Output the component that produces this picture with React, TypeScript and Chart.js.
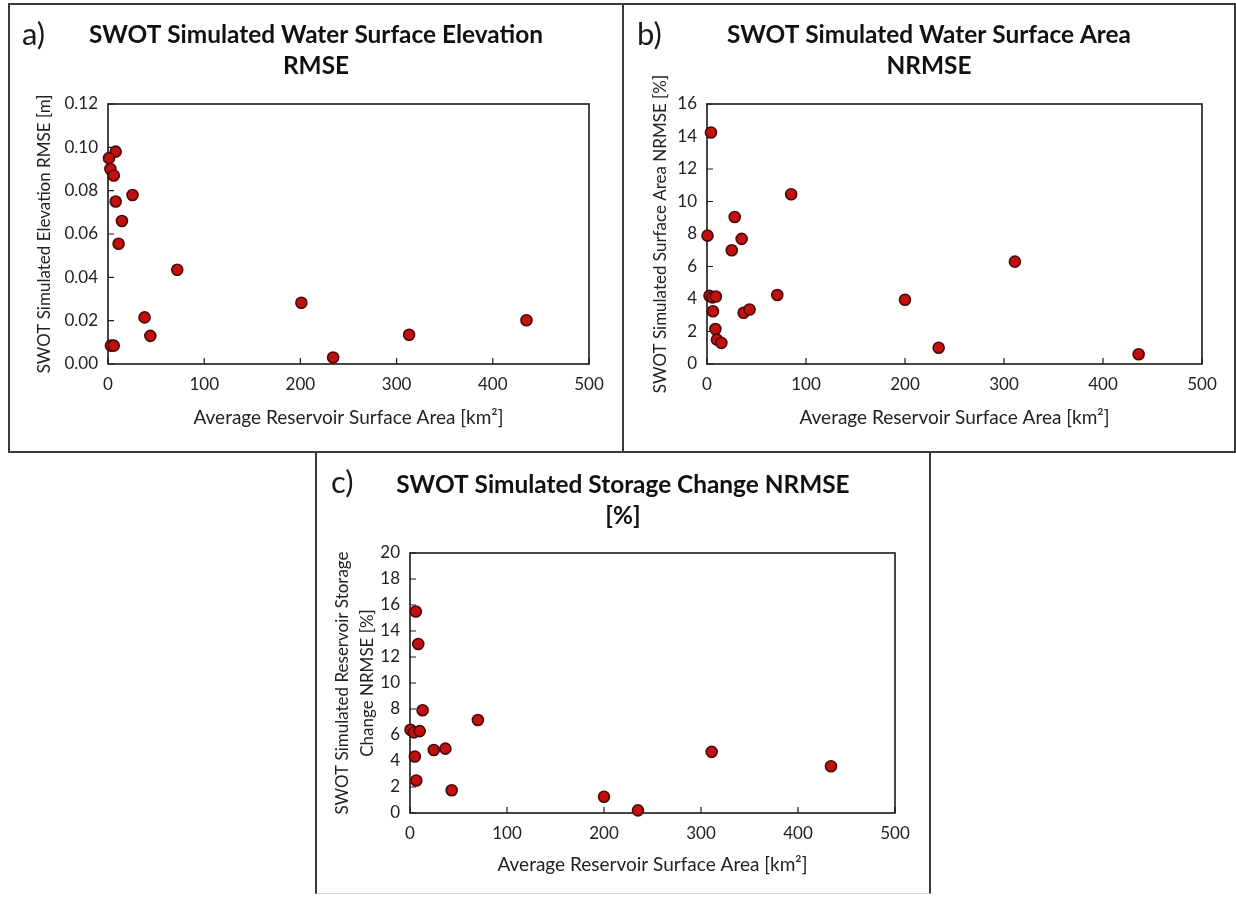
import { useEffect, useRef } from 'react';
import { Chart, registerables } from 'chart.js';

Chart.register(...registerables);

// ---------- data ----------
const xTickValues = [0, 100, 200, 300, 400, 500];
const xTickLabels = ['0', '100', '200', '300', '400', '500'];

// a) Water surface elevation RMSE [m]
const areaA = [8, 1, 2.5, 6, 25.5, 8, 14.5, 11, 72, 38, 44, 3, 6, 201, 234, 313, 435];
const rmseA = [0.098, 0.095, 0.09, 0.087, 0.078, 0.075, 0.066, 0.0555, 0.0435, 0.0215, 0.013, 0.0085, 0.0085, 0.0283, 0.003, 0.0135, 0.0202];
const yTickValuesA = [0, 0.02, 0.04, 0.06, 0.08, 0.1, 0.12];
const yTickLabelsA = ['0.00', '0.02', '0.04', '0.06', '0.08', '0.10', '0.12'];

// b) Water surface area NRMSE [%]
const areaB = [4, 85, 28, 0.5, 35, 25, 2.5, 5.5, 9, 71, 6, 37, 43, 8.5, 10, 14.5, 200, 234, 311, 436];
const nrmseB = [14.25, 10.45, 9.05, 7.9, 7.7, 7.0, 4.2, 4.1, 4.15, 4.25, 3.25, 3.15, 3.35, 2.15, 1.5, 1.3, 3.95, 1.0, 6.3, 0.6];
const yTickValuesB = [0, 2, 4, 6, 8, 10, 12, 14, 16];
const yTickLabelsB = ['0', '2', '4', '6', '8', '10', '12', '14', '16'];

// c) Storage change NRMSE [%]
const areaC = [6, 8.5, 13, 70, 0.5, 4, 10, 24.5, 36.5, 5, 6.5, 43, 200, 235, 311, 434];
const nrmseC = [15.5, 13.0, 7.9, 7.15, 6.4, 6.2, 6.3, 4.85, 4.95, 4.35, 2.5, 1.75, 1.25, 0.2, 4.7, 3.6];
const yTickValuesC = [0, 2, 4, 6, 8, 10, 12, 14, 16, 18, 20];
const yTickLabelsC = ['0', '2', '4', '6', '8', '10', '12', '14', '16', '18', '20'];

const xTitle = 'Average Reservoir Surface Area [km²]';

const FONT = 'Lato, "Open Sans", "Noto Sans", sans-serif';
const TITLE_SIZE = 24.4;

const framePlugin = {
  id: 'frameTicks',
  beforeDatasetsDraw(chart: any) {
    const { ctx, chartArea: a, scales } = chart;
    ctx.save();
    ctx.strokeStyle = '#1a1a1a';
    ctx.lineWidth = 1.6;
    ctx.strokeRect(a.left, a.top, a.right - a.left, a.bottom - a.top);
    ctx.lineWidth = 1.2;
    ctx.beginPath();
    scales.x.ticks.forEach((t: any) => {
      const px = scales.x.getPixelForValue(t.value);
      ctx.moveTo(px, a.bottom);
      ctx.lineTo(px, a.bottom - 6);
    });
    scales.y.ticks.forEach((t: any) => {
      const py = scales.y.getPixelForValue(t.value);
      ctx.moveTo(a.left, py);
      ctx.lineTo(a.left + 6, py);
    });
    ctx.stroke();
    ctx.restore();
  },
  afterDraw(chart: any, _args: any, opts: any) {
    if (!opts || !opts.label) return;
    const { ctx } = chart;
    ctx.save();
    ctx.font = `normal 31px ${FONT}`;
    ctx.fillStyle = '#1a1a1a';
    ctx.textBaseline = 'middle';
    ctx.textAlign = 'left';
    ctx.fillText(opts.label, opts.lx, opts.ly);
    ctx.restore();
  },
};

type PanelDef = {
  label: string;
  title: string[];
  yTitle: string | string[];
  xs: number[];
  ys: number[];
  yTickValues: number[];
  yTickLabels: string[];
  left: number;
  top: number;
  width: number;
  height: number;
  yAxisW: number;
  rightW: number;
  titlePadTop: number;
  titlePadBottom: number;
  yTitlePad: number;
  yTitleLH: number;
  xAxisH: number;
  xTitlePadBottom: number;
  lx: number;
  ly: number;
};

function Panel({ def }: { def: PanelDef }) {
  const ref = useRef<HTMLCanvasElement | null>(null);
  useEffect(() => {
    if (!ref.current) return;
    const points = def.xs.map((x, i) => ({ x, y: def.ys[i] }));
    const yMin = def.yTickValues[0];
    const yMax = def.yTickValues[def.yTickValues.length - 1];
    const chart = new Chart(ref.current, {
      type: 'scatter',
      data: {
        datasets: [
          {
            data: points,
            backgroundColor: '#c40f0f',
            borderColor: '#4a0909',
            borderWidth: 1.6,
            pointRadius: 5.5,
            pointHoverRadius: 5.5,
            clip: false,
          } as any,
        ],
      },
      plugins: [framePlugin],
      options: {
        animation: false,
        responsive: false,
        events: [],
        layout: { padding: 0 },
        plugins: {
          legend: { display: false },
          tooltip: { enabled: false },
          title: {
            display: true,
            text: def.title,
            color: '#111',
            font: { family: FONT, size: TITLE_SIZE, weight: 'bold', lineHeight: 31 / TITLE_SIZE },
            padding: { top: def.titlePadTop, bottom: def.titlePadBottom },
          },
          frameTicks: { label: def.label, lx: def.lx, ly: def.ly },
        } as any,
        scales: {
          x: {
            type: 'linear',
            position: 'bottom',
            min: 0,
            max: 500,
            afterBuildTicks: (s: any) => {
              s.ticks = xTickValues.map((v) => ({ value: v }));
            },
            afterFit: (s: any) => {
              s.height = def.xAxisH;
            },
            grid: { display: false, drawTicks: false },
            border: { display: false },
            ticks: {
              padding: 10,
              color: '#222',
              font: { family: FONT, size: 17 },
              maxRotation: 0,
              callback: (_v: any, i: number) => xTickLabels[i],
            },
            title: {
              display: true,
              text: xTitle,
              color: '#222',
              font: { family: FONT, size: 19 },
              padding: { top: 0, bottom: def.xTitlePadBottom },
            },
          },
          y: {
            type: 'linear',
            position: 'left',
            min: yMin,
            max: yMax,
            afterBuildTicks: (s: any) => {
              s.ticks = def.yTickValues.map((v) => ({ value: v }));
            },
            afterFit: (s: any) => {
              s.width = def.yAxisW;
            },
            grid: { display: false, drawTicks: false },
            border: { display: false },
            ticks: {
              padding: 10,
              color: '#222',
              font: { family: FONT, size: 17 },
              callback: (_v: any, i: number) => def.yTickLabels[i],
            },
            title: {
              display: true,
              text: def.yTitle,
              color: '#222',
              font: { family: FONT, size: 17, lineHeight: def.yTitleLH / 17 },
              padding: { top: def.yTitlePad, bottom: 0 },
            },
          },
          y2: {
            type: 'linear',
            position: 'right',
            display: true,
            grid: { display: false, drawTicks: false },
            border: { display: false },
            ticks: { display: false },
            afterFit: (s: any) => {
              s.width = def.rightW;
            },
          },
        },
      } as any,
    });
    return () => chart.destroy();
  }, [def]);
  return (
    <canvas
      ref={ref}
      width={def.width}
      height={def.height}
      style={{ position: 'absolute', left: def.left, top: def.top, width: def.width, height: def.height }}
    />
  );
}

const panels: PanelDef[] = [
  {
    label: 'a)',
    title: ['SWOT Simulated Water Surface Elevation', 'RMSE'],
    yTitle: 'SWOT Simulated Elevation RMSE [m]',
    xs: areaA,
    ys: rmseA,
    yTickValues: yTickValuesA,
    yTickLabels: yTickLabelsA,
    left: 10,
    top: 5,
    width: 612,
    height: 446,
    yAxisW: 98,
    rightW: 33,
    titlePadTop: 15,
    titlePadBottom: 22,
    yTitlePad: 24.8,
    yTitleLH: 20.4,
    xAxisH: 87,
    xTitlePadBottom: 21.6,
    lx: 12,
    ly: 30,
  },
  {
    label: 'b)',
    title: ['SWOT Simulated Water Surface Area', 'NRMSE'],
    yTitle: 'SWOT Simulated Surface Area NRMSE [%]',
    xs: areaB,
    ys: nrmseB,
    yTickValues: yTickValuesB,
    yTickLabels: yTickLabelsB,
    left: 624,
    top: 5,
    width: 610,
    height: 446,
    yAxisW: 83,
    rightW: 32,
    titlePadTop: 15,
    titlePadBottom: 22,
    yTitlePad: 26.8,
    yTitleLH: 20.4,
    xAxisH: 87,
    xTitlePadBottom: 21.6,
    lx: 13,
    ly: 30,
  },
  {
    label: 'c)',
    title: ['SWOT Simulated Storage Change NRMSE', '[%]'],
    yTitle: ['SWOT Simulated Reservoir Storage', 'Change NRMSE [%]'],
    xs: areaC,
    ys: nrmseC,
    yTickValues: yTickValuesC,
    yTickLabels: yTickLabelsC,
    left: 317,
    top: 453,
    width: 612,
    height: 440,
    yAxisW: 93,
    rightW: 34,
    titlePadTop: 16.5,
    titlePadBottom: 21.5,
    yTitlePad: 13.5,
    yTitleLH: 25,
    xAxisH: 80,
    xTitlePadBottom: 16.6,
    lx: 14,
    ly: 30,
  },
];

export default function App() {
  const border = '2px solid #3a3a3a';
  return (
    <div
      style={{
        position: 'absolute',
        left: 0,
        top: 0,
        width: 1236,
        height: 898,
        background: '#fff',
        overflow: 'hidden',
      }}
    >
      <div style={{ position: 'absolute', left: 8, top: 3, width: 616, height: 450, border, boxSizing: 'border-box' }} />
      <div style={{ position: 'absolute', left: 622, top: 3, width: 614, height: 450, border, boxSizing: 'border-box' }} />
      <div
        style={{
          position: 'absolute',
          left: 315,
          top: 451,
          width: 616,
          height: 443,
          borderLeft: border,
          borderRight: border,
          borderTop: border,
          borderBottom: '1px solid #d4d4d4',
          boxSizing: 'border-box',
        }}
      />
      {panels.map((p) => (
        <Panel key={p.label} def={p} />
      ))}
    </div>
  );
}
